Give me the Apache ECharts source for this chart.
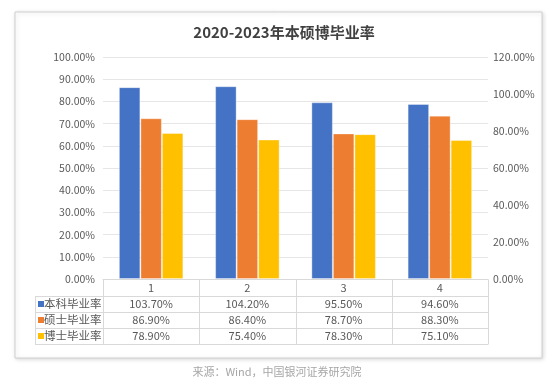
<!DOCTYPE html>
<html><head><meta charset="utf-8">
<script src="https://cdn.jsdelivr.net/npm/echarts@6/dist/echarts.min.js"></script>
<style>html,body{margin:0;padding:0;background:#fff;}#c{width:548px;height:382px;}</style>
</head><body><div id="c"></div>
<script>
var categories = ['1','2','3','4'];
var seriesNames = ['本科毕业率','硕士毕业率','博士毕业率'];
var bachelor = [103.70, 104.20, 95.50, 94.60];
var master = [86.90, 86.40, 78.70, 88.30];
var doctor = [78.90, 75.40, 78.30, 75.10];
var colors = ['#4472C4','#ED7D31','#FFC000'];
var leftTicks = {min:0, max:100, interval:10};
var rightTicks = {min:0, max:120, interval:20};
var title = '2020-2023年本硕博毕业率';
var source = '来源：Wind，中国银河证券研究院';

var FONT = '"Noto Sans CJK SC","Noto Sans",sans-serif';
var chart = echarts.init(document.getElementById('c'));
var values = [bachelor, master, doctor];
var series = values.map(function(v,i){
  return {name:seriesNames[i], type:'bar', yAxisIndex:1, data:v, barWidth:21.5, barGap:'0%',
    itemStyle:{color:colors[i], borderColor:'rgba(255,255,255,0.35)', borderWidth:1}};
});
var GL=103, GR=60, GT=57, GB=103;
chart.setOption({
  animation:false,
  backgroundColor:'#fff',
  title:{text:title, left:279, top:20, textAlign:'center',
    textStyle:{fontFamily:FONT, fontSize:15, fontWeight:'bold', color:'#404040'}},
  grid:{left:GL, right:GR, top:GT, bottom:GB, containLabel:false},
  xAxis:{type:'category', data:categories, axisLine:{show:true,lineStyle:{color:'#D9D9D9'}},
    axisTick:{show:false}, axisLabel:{show:false}},
  yAxis:[
    {type:'value', min:leftTicks.min, max:leftTicks.max, interval:leftTicks.interval,
      axisLine:{show:false}, axisTick:{show:false},
      splitLine:{lineStyle:{color:'#E6E6E6'}},
      axisLabel:{margin:8, color:'#595959', fontSize:10.5, fontFamily:FONT,
        formatter:function(v){return v.toFixed(2)+'%';}}},
    {type:'value', min:rightTicks.min, max:rightTicks.max, interval:rightTicks.interval,
      axisLine:{show:false}, axisTick:{show:false}, splitLine:{show:false},
      axisLabel:{margin:5, color:'#595959', fontSize:10.5, fontFamily:FONT,
        formatter:function(v){return v.toFixed(2)+'%';}}}
  ],
  series:series
});

// Build the data table under the chart from axis positions
function buildTable(){
  var els = [];
  var x0 = chart.convertToPixel({xAxisIndex:0}, categories[0]);
  var x1 = chart.convertToPixel({xAxisIndex:0}, categories[1]);
  var bw = x1 - x0;
  var left = x0 - bw/2;
  var right = left + bw*categories.length;
  var yTop = chart.convertToPixel({yAxisIndex:0}, 0) + 0.5;
  var rh = 16;
  var labelLeft = 35;
  var lc = '#D9D9D9';
  var rows = values.length;
  // card frame
  els.push({type:'rect', shape:{x:15,y:12,width:527,height:346}, z:-10,
    style:{fill:'#fff', stroke:'#D0D0D0', lineWidth:1, shadowBlur:4, shadowColor:'rgba(0,0,0,0.15)', shadowOffsetX:1, shadowOffsetY:1}});
  // horizontal lines
  els.push({type:'line', shape:{x1:left,y1:yTop,x2:right,y2:yTop}, style:{stroke:lc,lineWidth:1}});
  for(var r=1;r<=rows+1;r++){
    var y = Math.round(yTop + r*rh) + 0.5;
    els.push({type:'line', shape:{x1:labelLeft,y1:y,x2:right,y2:y}, style:{stroke:lc,lineWidth:1}});
  }
  var yBot = Math.round(yTop + (rows+1)*rh)+0.5;
  // vertical lines
  for(var c=0;c<=categories.length;c++){
    var x = Math.round(left + c*bw)+0.5;
    els.push({type:'line', shape:{x1:x,y1:yTop,x2:x,y2:yBot}, style:{stroke:lc,lineWidth:1}});
  }
  els.push({type:'line', shape:{x1:labelLeft+0.5,y1:Math.round(yTop+rh)+0.5,x2:labelLeft+0.5,y2:yBot}, style:{stroke:lc,lineWidth:1}});
  // header
  categories.forEach(function(cat,i){
    els.push({type:'text', x:left+(i+0.5)*bw, y:yTop+rh/2+0.5,
      style:{text:cat, fill:'#595959', font:'11px '+FONT, align:'center', verticalAlign:'middle'}});
  });
  values.forEach(function(v,r){
    var yc = yTop + (r+1.5)*rh + 0.5;
    els.push({type:'rect', shape:{x:labelLeft+3,y:yc-3,width:6,height:6}, style:{fill:colors[r]}});
    els.push({type:'text', x:labelLeft+9, y:yc,
      style:{text:seriesNames[r], fill:'#595959', font:'11.5px '+FONT, align:'left', verticalAlign:'middle'}});
    v.forEach(function(val,i){
      els.push({type:'text', x:left+(i+0.5)*bw, y:yc,
        style:{text:val.toFixed(2)+'%', fill:'#595959', font:'11px '+FONT, align:'center', verticalAlign:'middle'}});
    });
  });
  els.push({type:'text', x:277, y:372,
    style:{text:source, fill:'#A6A6A6', font:'11px '+FONT, align:'center', verticalAlign:'middle'}});
  chart.setOption({graphic:{elements:els}});
}
buildTable();
</script></body></html>
